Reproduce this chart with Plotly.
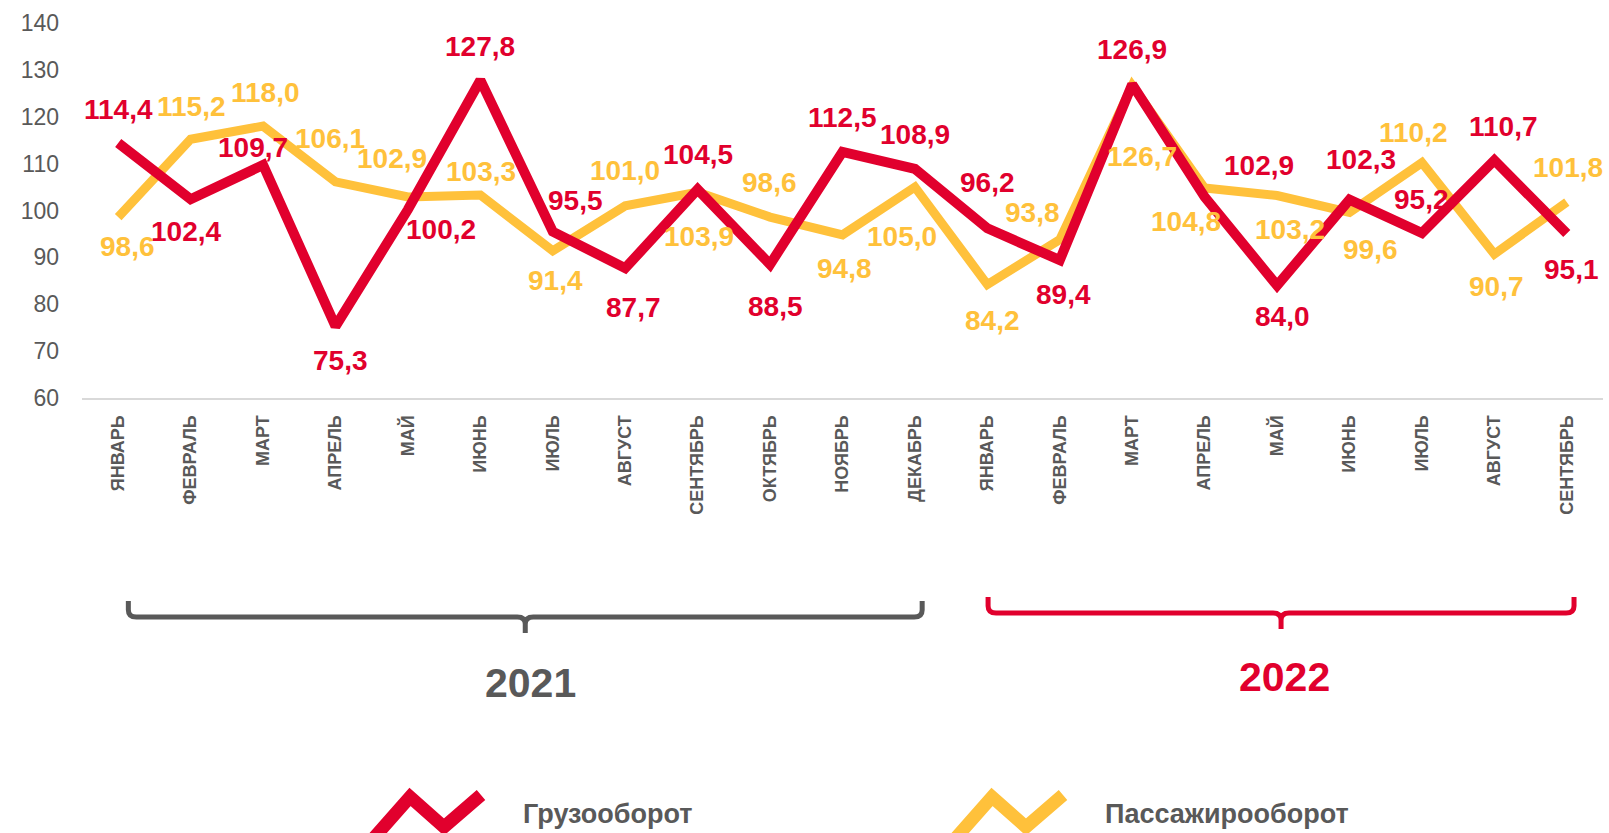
import plotly.graph_objects as go

# ---------------- data ----------------
months = ["ЯНВАРЬ", "ФЕВРАЛЬ", "МАРТ", "АПРЕЛЬ", "МАЙ", "ИЮНЬ", "ИЮЛЬ", "АВГУСТ",
          "СЕНТЯБРЬ", "ОКТЯБРЬ", "НОЯБРЬ", "ДЕКАБРЬ",
          "ЯНВАРЬ", "ФЕВРАЛЬ", "МАРТ", "АПРЕЛЬ", "МАЙ", "ИЮНЬ", "ИЮЛЬ", "АВГУСТ", "СЕНТЯБРЬ"]
cargo = [114.4, 102.4, 109.7, 75.3, 100.2, 127.8, 95.5, 87.7, 104.5, 88.5, 112.5, 108.9,
         96.2, 89.4, 126.9, 102.9, 84.0, 102.3, 95.2, 110.7, 95.1]
passenger = [98.6, 115.2, 118.0, 106.1, 102.9, 103.3, 91.4, 101.0, 103.9, 98.6, 94.8, 105.0,
             84.2, 93.8, 126.7, 104.8, 103.2, 99.6, 110.2, 90.7, 101.8]
years = ["2021", "2022"]
series_names = ["Грузооборот", "Пассажирооборот"]
y_ticks = [60, 70, 80, 90, 100, 110, 120, 130, 140]

# ---------------- styles / label offsets (pixels) ----------------
RED = "#E1002D"
YEL = "#FFC13B"
GRAY = "#595959"
FONT = "Liberation Sans, Arial"
cargo_dx = [0, -5, -10, 5, 33, 0, 23, 8, 0, 5, 0, 0, 0, 4, 0, 54, 5, 11, 0, 9, 5]
cargo_dy = [-34, 32, -18, 34, 20, -34, -31, 39, -35, 42, -34, -34, -46, 34, -35, -31, 31, -40, -34, -34, 36]
pass_dx = [9, 1, 2, -6, -16, 1, 3, 0, 1, -1, 2, -13, 5, -27, 10, -19, 13, 21, -8, 2, 1]
pass_dy = [29, -33, -34, -43, -38, -24, 30, -35, 44, -35, 34, 49, 36, -27, 71, 33, 34, 37, -30, 32, -35]

W, H = 1609, 833
L, R, T, B = 82, 1603, 23, 398

def pyp(py):
    return (B - py) / (B - T)

def pxp(px):
    return (px - L) / (R - L)

x = list(range(len(months)))

fig = go.Figure()
fig.add_trace(go.Scatter(x=x, y=passenger, mode="lines", name=series_names[1],
                         line=dict(color=YEL, width=9), hoverinfo="skip"))
fig.add_trace(go.Scatter(x=x, y=cargo, mode="lines", name=series_names[0],
                         line=dict(color=RED, width=10), hoverinfo="skip"))

def fmt(v):
    return "<b>" + f"{v:.1f}".replace(".", ",") + "</b>"

ann = []
for i, v in enumerate(passenger):
    ann.append(dict(x=i, y=v, xref="x", yref="y", text=fmt(v), showarrow=False,
                    xanchor="center", yanchor="middle",
                    xshift=pass_dx[i], yshift=-pass_dy[i],
                    font=dict(family=FONT, size=28, color=YEL)))
for i, v in enumerate(cargo):
    ann.append(dict(x=i, y=v, xref="x", yref="y", text=fmt(v), showarrow=False,
                    xanchor="center", yanchor="middle",
                    xshift=cargo_dx[i], yshift=-cargo_dy[i],
                    font=dict(family=FONT, size=28, color=RED)))

# year braces (x in category units, y in paper units)
def brace(x0, x1, ytop, yline, ytip, color):
    xm = (x0 + x1) / 2
    r = 0.11
    p = (f"M {x0},{pyp(ytop)} L {x0},{pyp(yline - 7)} "
         f"Q {x0},{pyp(yline)} {x0 + r},{pyp(yline)} "
         f"L {xm - r},{pyp(yline)} Q {xm},{pyp(yline)} {xm},{pyp(yline + 7)} "
         f"L {xm},{pyp(ytip)} M {xm},{pyp(yline + 7)} "
         f"Q {xm},{pyp(yline)} {xm + r},{pyp(yline)} "
         f"L {x1 - r},{pyp(yline)} Q {x1},{pyp(yline)} {x1},{pyp(yline - 7)} "
         f"L {x1},{pyp(ytop)}")
    return dict(type="path", xref="x", yref="paper", path=p,
                line=dict(color=color, width=5), layer="above")

shapes = [brace(0.14, 11.10, 601, 617, 633, GRAY),
          brace(12.01, 20.10, 597, 613, 629, RED)]

ann.append(dict(x=5.69, y=pyp(683), xref="x", yref="paper", text="<b>" + years[0] + "</b>",
                xanchor="center", yanchor="middle", showarrow=False,
                font=dict(family=FONT, size=41, color=GRAY)))
ann.append(dict(x=16.1, y=pyp(677), xref="x", yref="paper", text="<b>" + years[1] + "</b>",
                xanchor="center", yanchor="middle", showarrow=False,
                font=dict(family=FONT, size=41, color=RED)))

# legend: zigzag icons + text
def zig(ox, color):
    pts = [(ox + 2, 840), (ox + 40, 797), (ox + 74, 827), (ox + 111, 795)]
    p = "M " + " L ".join(f"{pxp(a)},{pyp(b)}" for a, b in pts)
    return dict(type="path", xref="paper", yref="paper", path=p,
                line=dict(color=color, width=13), layer="above")

shapes.append(zig(370, RED))
shapes.append(zig(952, YEL))
ann.append(dict(x=pxp(521), y=pyp(814), xref="paper", yref="paper",
                xanchor="left", yanchor="middle",
                text="<b>" + series_names[0] + "</b>", showarrow=False,
                font=dict(family=FONT, size=27, color=GRAY)))
ann.append(dict(x=pxp(1103), y=pyp(814), xref="paper", yref="paper",
                xanchor="left", yanchor="middle",
                text="<b>" + series_names[1] + "</b>", showarrow=False,
                font=dict(family=FONT, size=27, color=GRAY)))

fig.update_layout(
    width=W, height=H,
    margin=dict(l=L, r=W - R, t=T, b=H - B, pad=0),
    paper_bgcolor="white", plot_bgcolor="white",
    showlegend=False,
    annotations=ann, shapes=shapes,
    font=dict(family=FONT, color=GRAY),
)
fig.update_xaxes(range=[-0.5, len(months) - 0.5], tickmode="array", tickvals=x,
                 ticktext=["<b>" + m + "</b>" for m in months], tickangle=-90,
                 tickfont=dict(size=18, color=GRAY, family=FONT),
                 showgrid=False, zeroline=False, showline=True, linecolor="#D9D9D9",
                 linewidth=2, ticks="", ticklabelstandoff=8)
fig.update_yaxes(range=[60, 140], tickmode="array", tickvals=y_ticks,
                 tickfont=dict(size=23, color=GRAY, family=FONT),
                 showgrid=False, zeroline=False, showline=False, ticks="",
                 ticklabelstandoff=22)

fig.write_html("out.html", config={"displayModeBar": False},
               post_script="document.body.style.margin='0';")
